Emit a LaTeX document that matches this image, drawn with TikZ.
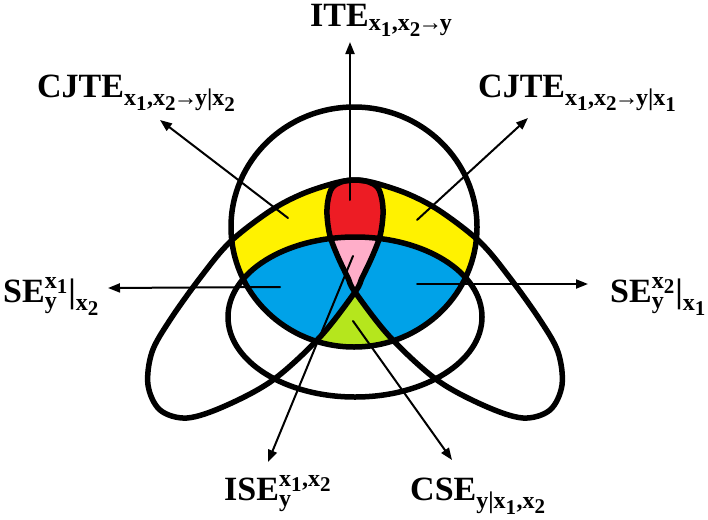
\documentclass[tikz,border=0pt]{standalone}
\usepackage{amsmath}
\usepackage{fontspec}
\setmainfont{Liberation Serif}
\usetikzlibrary{arrows.meta}
\DeclareMathSizes{34}{34}{24}{21}
\definecolor{paintRed}{HTML}{ED1C24}
\definecolor{paintYellow}{HTML}{FFF200}
\definecolor{paintBlue}{HTML}{00A2E8}
\definecolor{paintPink}{HTML}{FFAEC9}
\definecolor{paintGreen}{HTML}{B5E61D}
\newcommand{\bt}[1]{\textbf{#1}}
\newcommand{\toarr}{\kern-2.5pt→\kern-2.5pt}
% the four sets
\def\circY{(354,227) ellipse [x radius=123, y radius=120]}
\def\midX{(355,317) ellipse [x radius=127, y radius=80]}
\def\petalL{plot[smooth cycle, tension=0.55] coordinates {(355,180) (369,182) (378,188) (382,200) (383,215) (380,236) (372,257) (362,278) (355,292) (320,337) (273,380) (225,406) (187,418) (160,410) (148,385) (152,352) (170,320) (200,278) (230,242) (270,211) (302,194) (335,183)}}
\def\petalR{plot[smooth cycle, tension=0.55] coordinates {(355,180) (341,182) (332,188) (328,200) (327,215) (330,236) (338,257) (348,278) (355,292) (390,337) (437,380) (485,406) (523,418) (550,410) (562,385) (558,352) (540,320) (510,278) (480,242) (440,211) (408,194) (375,183)}}

\begin{document}
\begin{tikzpicture}[x=1pt, y=-1pt, line cap = round, line join = round, >={Triangle[length=12pt,width=9pt]}]
\tikzstyle{outline}=[draw=black, line width=5.5pt]
\tikzstyle{pointer}=[line width=2pt, ->, color=black]
\tikzstyle{lbl}=[inner sep=0pt, anchor=base west, font=\fontsize{34}{40}\selectfont\bfseries]
\useasboundingbox (0,0) rectangle (708,519);

% coloured parts
\begin{scope}
  \clip \circY;
  \fill[paintYellow] \petalL;
  \fill[paintYellow] \petalR;
  \begin{scope}
    \clip \petalL;
    \fill[paintRed] \petalR;
  \end{scope}
  \clip \midX;
  \fill[paintGreen] \midX;
  \fill[paintBlue] \petalL;
  \fill[paintBlue] \petalR;
  \clip \petalL;
  \fill[paintPink] \petalR;
\end{scope}

% outlines
\draw[outline] \circY;
\draw[outline] \midX;
\draw[outline] \petalL;
\draw[outline] \petalR;

% labels
\node[lbl] (ite)   at (310,27)  {$\bt{ITE}_{\bt{x}_{\bt{1}}\bt{,x}_{\bt{2}}\bt{\toarr y}}$};
\node[lbl] (cjteL) at (37,97)   {$\bt{CJTE}_{\bt{x}_{\bt{1}}\bt{,x}_{\bt{2}}\bt{\toarr y|x}_{\bt{2}}}$};
\node[lbl] (cjteR) at (478,97)  {$\bt{CJTE}_{\bt{x}_{\bt{1}}\bt{,x}_{\bt{2}}\bt{\toarr y|x}_{\bt{1}}}$};
\node[lbl] (seL)   at (3,302)   {$\bt{SE}_{\bt{y}}^{\bt{x}_{\bt{1}}}\bt{|}_{\bt{x}_{\bt{2}}}$};
\node[lbl] (seR)   at (610,302) {$\bt{SE}_{\bt{y}}^{\bt{x}_{\bt{2}}}\bt{|}_{\bt{x}_{\bt{1}}}$};
\node[lbl] (ise)   at (224,500) {$\bt{ISE}_{\bt{y}}^{\bt{x}_{\bt{1}}\bt{,x}_{\bt{2}}}$};
\node[lbl] (cse)   at (410,500) {$\bt{CSE}_{\bt{y|x}_{\bt{1}}\bt{,x}_{\bt{2}}}$};

% start points inside the regions
\coordinate (redPt)   at (350,200);
\coordinate (yelL)    at (288,218);
\coordinate (yelR)    at (417,220);
\coordinate (bluL)    at (280,287);
\coordinate (bluR)    at (417,284);
\coordinate (pinkPt)  at (353,256);
\coordinate (greenPt) at (353,321);

\draw[pointer] (redPt)   -- ([shift={(40,15)}]ite.base west);
\draw[pointer] (yelL)    -- ([shift={(123,23)}]cjteL.base west);
\draw[pointer] (yelR)    -- ([shift={(50,21)}]cjteR.base west);
\draw[pointer] (bluL)    -- ([shift={(105,-14)}]seL.base west);
\draw[pointer] (bluR)    -- ([shift={(-22,-18)}]seR.base west);
\draw[pointer] (pinkPt)  -- ([shift={(44,-38)}]ise.base west);
\draw[pointer] (greenPt) -- ([shift={(42,-40)}]cse.base west);
\end{tikzpicture}
\end{document}
